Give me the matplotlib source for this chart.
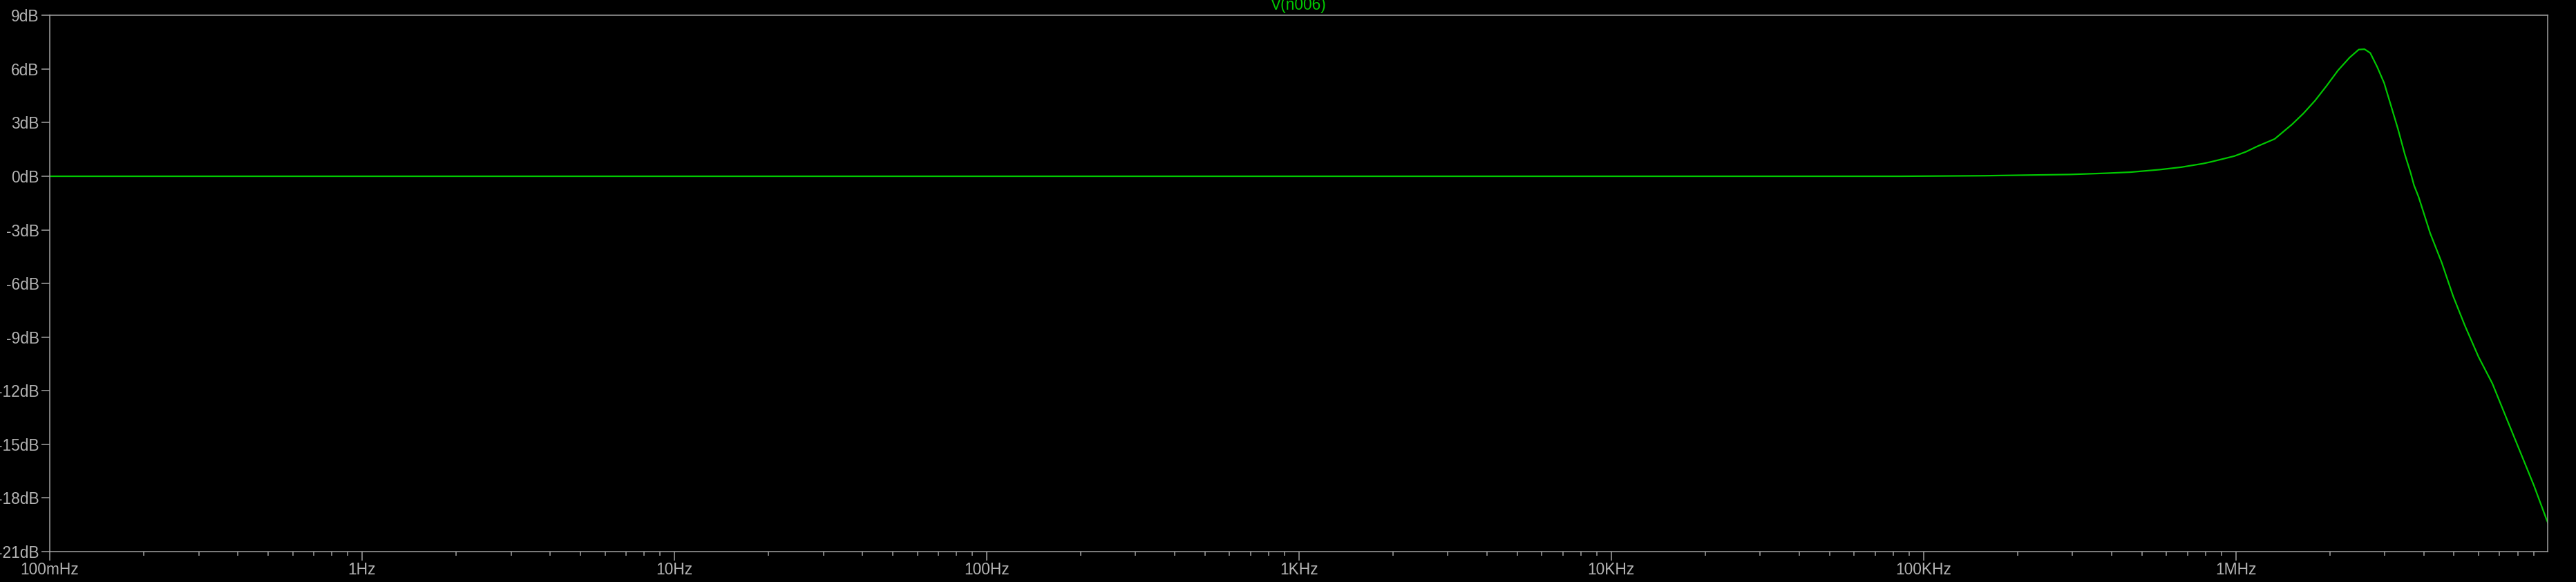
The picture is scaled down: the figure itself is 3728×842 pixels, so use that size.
import matplotlib.pyplot as plt
import numpy as np

freq = np.array([0.1, 1, 10, 100, 1e3, 1e4, 84e3, 157e3, 294e3, 384e3,
                 460e3, 570e3, 670e3, 786e3, 835e3, 910e3, 990e3, 1.078e6,
                 1.174e6, 1.333e6, 1.514e6, 1.648e6, 1.794e6, 1.954e6,
                 2.127e6, 2.315e6, 2.477e6, 2.585e6, 2.696e6, 2.838e6,
                 2.987e6, 3.143e6, 3.307e6, 3.479e6, 3.63e6, 3.724e6,
                 3.852e6, 4.195e6, 4.565e6, 4.971e6, 5.413e6, 5.993e6,
                 6.636e6, 7.347e6, 8.137e6, 9.008e6, 9.886e6, 1e7])
mag_db = np.array([0.0, 0.0, 0.0, 0.0, 0.0, 0.0, 0.0, 0.03, 0.10, 0.17,
                   0.23, 0.37, 0.51, 0.71, 0.81, 0.97, 1.13, 1.37,
                   1.68, 2.09, 2.90, 3.52, 4.23, 5.06,
                   5.93, 6.64, 7.09, 7.11, 6.90, 6.12,
                   5.22, 3.94, 2.65, 1.23, 0.20, -0.51,
                   -1.16, -3.19, -4.82, -6.72, -8.34, -10.11,
                   -11.6, -13.5, -15.4, -17.29, -19.19, -19.4])

x_ticks = [0.1, 1, 10, 100, 1e3, 1e4, 1e5, 1e6]
x_labels = ['100mHz', '1Hz', '10Hz', '100Hz', '1KHz', '10KHz', '100KHz', '1MHz']
y_ticks = [9, 6, 3, 0, -3, -6, -9, -12, -15, -18, -21]
y_labels = ['9dB', '6dB', '3dB', '0dB', '-3dB', '-6dB', '-9dB', '-12dB',
            '-15dB', '-18dB', '-21dB']

plt.rcParams['font.family'] = ['Liberation Sans', 'DejaVu Sans']
axis_col = '#a0a0a0'
text_col = '#b4b4b4'
trace_col = '#00c800'

fig = plt.figure(figsize=(37.28, 8.42), dpi=100, facecolor='black')
ax = fig.add_axes([72 / 3728, 1 - 798 / 842, (3687.5 - 72) / 3728, (798 - 22.3) / 842])
ax.set_facecolor('black')

ax.semilogx(freq, mag_db, color=trace_col, lw=1.6)

ax.set_xlim(0.1, 1e7)
ax.set_ylim(-21, 9)

ax.set_xticks(x_ticks)
ax.set_xticklabels(x_labels)
minor = [m * d for d in [0.1, 1, 10, 100, 1e3, 1e4, 1e5, 1e6] for m in range(2, 10)]
ax.set_xticks(minor, minor=True)
ax.set_xticklabels([], minor=True)
ax.set_yticks(y_ticks)
ax.set_yticklabels(y_labels)
ax.tick_params(axis='both', which='major', colors=axis_col, labelcolor=text_col,
               labelsize=16.4, length=9, width=1.1, pad=2)
ax.tick_params(axis='x', which='minor', colors=axis_col, length=4.3, width=1.1)
ax.tick_params(axis='y', which='minor', left=False)

for s in ax.spines.values():
    s.set_color(axis_col)
    s.set_linewidth(1.1)

fig.text((72 + 3687.5) / 2 / 3728, 1 - 14 / 842, 'V(n006)', color=trace_col,
         fontsize=16.4, ha='center', va='baseline')

fig.savefig('out.png', facecolor='black')
